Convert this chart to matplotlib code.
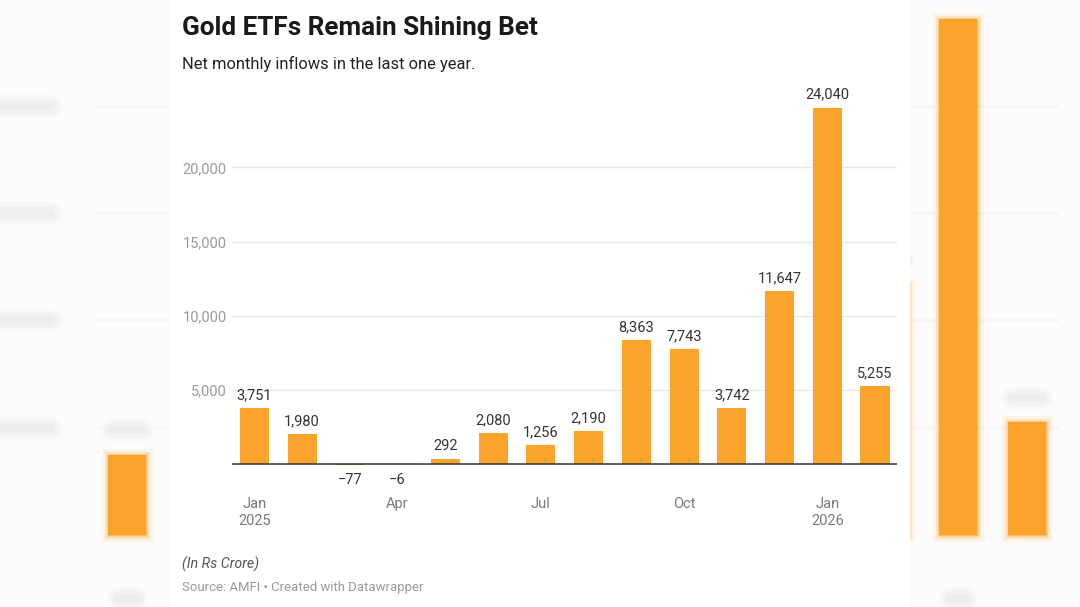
import matplotlib
matplotlib.use("Agg")
import matplotlib.pyplot as plt
from matplotlib.patches import Rectangle

plt.rcParams['font.family'] = ['Roboto', 'DejaVu Sans']

# data (Rs crore)
months = ["Jan 2025", "Feb", "Mar", "Apr", "May", "Jun", "Jul", "Aug",
          "Sep", "Oct", "Nov", "Dec", "Jan 2026", "Feb 2026"]
inflows = [3751, 1980, -77, -6, 292, 2080, 1256, 2190,
           8363, 7743, 3742, 11647, 24040, 5255]
tick_pos = [0, 3, 6, 9, 12]
tick_labels = ["Jan\n2025", "Apr", "Jul", "Oct", "Jan\n2026"]
y_ticks = [5000, 10000, 15000, 20000]

BAR = '#fba42b'
W, H = 1080, 607
XLIM = (-0.47, 13.46)
YLIM = (-1500, 25500)

fig = plt.figure(figsize=(W / 100, H / 100), dpi=100)
fig.patch.set_facecolor('#fcfcfc')


def px_box(l, r, t, b):
    return [l / W, 1 - b / H, (r - l) / W, (b - t) / H]


def fmt(v):
    return "{:,}".format(abs(v)) if v >= 0 else "\u2212{:,}".format(abs(v))


def blob(axis, x0, x1, y):
    # soft grey smear standing in for a blurred label
    for lw, c in [(16, '#f7f7f7'), (11, '#f2f2f2'), (6, '#ededed')]:
        axis.plot([x0, x1], [y, y], color=c, lw=lw, solid_capstyle='round',
                  zorder=3, clip_on=False)


# blurred, zoomed copy of the chart behind the card
s, cx, cy = 1.45, 537, 305
bg = fig.add_axes(px_box(cx + (232 - cx) * s, cx + (897 - cx) * s,
                         cy + (86 - cy) * s, cy + (486 - cy) * s))
bg.set_zorder(0)
bg.set_xlim(*XLIM)
bg.set_ylim(*YLIM)
bg.axis('off')
x = range(len(inflows))
for yv in y_ticks:
    bg.axhline(yv, color='#f6f6f6', lw=2.5, zorder=1)
    blob(bg, -1.85, -1.1, yv)
for lw, a in [(9, 0.1), (5, 0.18), (2, 0.35)]:
    bg.bar(x, inflows, width=0.55, color=BAR, edgecolor=BAR, linewidth=lw,
           alpha=a, zorder=2)
bg.bar(x, inflows, width=0.55, color=BAR, zorder=2)
for i, v in enumerate(inflows):
    if v > 0:
        blob(bg, i - 0.22, i + 0.22, v + 1150)
for p in tick_pos:
    blob(bg, p - 0.12, p + 0.12, -2900)

# white card
fig.patches.append(Rectangle((170 / W, 0), 740 / W, 1, transform=fig.transFigure,
                             facecolor='white', edgecolor='none', zorder=1))

# main chart
ax = fig.add_axes(px_box(232, 897, 86, 486))
ax.set_zorder(2)
ax.patch.set_alpha(0)
ax.set_xlim(*XLIM)
ax.set_ylim(*YLIM)
ax.bar(x, inflows, width=0.61, color=BAR, zorder=2)
ax.axhline(0, color='#333333', lw=1.1, zorder=3)
for yv in y_ticks:
    ax.axhline(yv, color='#e6e6e6', lw=1, zorder=1)
ax.set_yticks(y_ticks)
ax.set_yticklabels(["{:,}".format(v) for v in y_ticks])
ax.tick_params(axis='y', length=0, pad=4, labelsize=10.5, labelcolor='#9a9a9a')
ax.set_xticks(tick_pos)
ax.set_xticklabels(tick_labels, linespacing=1.25)
ax.tick_params(axis='x', length=0, pad=8, labelsize=10.5, labelcolor='#7a7a7a')
for sp in ax.spines.values():
    sp.set_visible(False)

for i, v in enumerate(inflows):
    if v >= 0:
        ax.annotate(fmt(v), (i, v), xytext=(0, 9), textcoords='offset pixels',
                    ha='center', va='baseline', fontsize=10.5, color='#333333')
    else:
        ax.annotate(fmt(v), (i, min(v, -70)), xytext=(0, -19), textcoords='offset pixels',
                    ha='center', va='baseline', fontsize=10.5, color='#333333')

# texts
fig.text(182 / W, 1 - 35 / H, "Gold ETFs Remain Shining Bet", fontsize=18.8,
         fontweight='bold', color='#1a1a1a', va='baseline', zorder=3)
fig.text(182 / W, 1 - 69 / H, "Net monthly inflows in the last one year.",
         fontsize=11.9, color='#222222', va='baseline', zorder=3)
fig.text(182 / W, 1 - 569 / H, "(In Rs Crore)", fontsize=10.3, style='italic',
         color='#555555', va='baseline', zorder=3)
fig.text(182 / W, 1 - 591.5 / H, "Source: AMFI \u2022 Created with Datawrapper",
         fontsize=9.45, color='#999999', va='baseline', zorder=3)

fig.savefig("out.png", dpi=100, facecolor=fig.get_facecolor())
